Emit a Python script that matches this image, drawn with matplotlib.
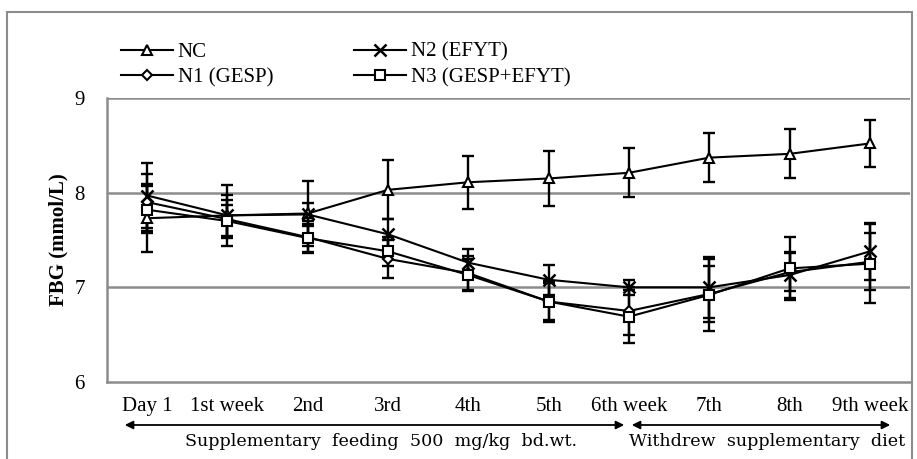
import numpy as np
import matplotlib
matplotlib.use('Agg')
from matplotlib import pyplot as plt
from matplotlib.patches import Rectangle, FancyArrowPatch

# x categories
weeks = ['Day 1', '1st week', '2nd', '3rd', '4th', '5th', '6th week', '7th', '8th', '9th week']

# mean FBG (mmol/L)
nc = [7.73, 7.76, 7.78, 8.03, 8.11, 8.15, 8.21, 8.37, 8.41, 8.52]
n1 = [7.90, 7.72, 7.53, 7.30, 7.15, 6.85, 6.75, 6.93, 7.16, 7.27]
n2 = [7.97, 7.76, 7.77, 7.56, 7.26, 7.08, 7.00, 7.00, 7.13, 7.38]
n3 = [7.82, 7.70, 7.52, 7.38, 7.13, 6.85, 6.69, 6.92, 7.20, 7.25]

# error bars
nc_err = [0.36, 0.32, 0.34, 0.31, 0.28, 0.29, 0.26, 0.26, 0.26, 0.25]
n1_err = [0.30, 0.20, 0.17, 0.20, 0.18, 0.22, 0.25, 0.30, 0.20, 0.30]
n2_err = [0.34, 0.22, 0.12, 0.16, 0.14, 0.16, 0.08, 0.32, 0.24, 0.30]
n3_err = [0.25, 0.17, 0.15, 0.15, 0.17, 0.20, 0.28, 0.38, 0.33, 0.42]

labels = ['NC', 'N1 (GESP)', 'N2 (EFYT)', 'N3 (GESP+EFYT)']
markers = ['^', 'D', 'x', 's']

plt.rcParams['font.family'] = ['Liberation Serif', 'DejaVu Serif']

fig = plt.figure(figsize=(9.17, 4.59), dpi=100)
ax = fig.add_axes([107/917, 1 - 382/459, 803/917, 284/459])

x = np.arange(len(weeks))
series = [(nc, nc_err), (n1, n1_err), (n2, n2_err), (n3, n3_err)]
for (vals, err), lab, mk in zip(series, labels, markers):
    ax.errorbar(x, vals, yerr=err, fmt='none', ecolor='black', elinewidth=1.7,
                capsize=4.5, capthick=1.7, zorder=3)
    ms = 5.5 if mk == 'D' else 6.5
    if mk == 'x':
        ax.plot(x, vals, color='black', lw=1.5, marker=mk, markersize=8,
                markeredgewidth=1.8, label=lab, zorder=4)
    else:
        ax.plot(x, vals, color='black', lw=1.5, marker=mk, markersize=ms,
                markerfacecolor='white', markeredgecolor='black',
                markeredgewidth=1.5, label=lab, zorder=4)

ax.set_xlim(-0.5, 9.5)
ax.set_ylim(6, 9)
ax.set_yticks([6, 7, 8, 9])
ax.set_xticks(x)
ax.set_xticklabels(weeks)
ax.tick_params(axis='both', length=0, labelsize=15)
ax.tick_params(axis='x', pad=11)
ax.tick_params(axis='y', pad=16)
for y in [7, 8, 9]:
    ax.axhline(y, color='#8c8c8c', lw=1.8, zorder=1)
for s in ['top', 'right']:
    ax.spines[s].set_visible(False)
for s in ['left', 'bottom']:
    ax.spines[s].set_color('#8c8c8c')
    ax.spines[s].set_linewidth(1.8)
ax.set_ylabel('FBG (mmol/L)', fontsize=15, fontweight='bold', labelpad=4)

fig.legend(loc='upper left', bbox_to_anchor=(113/917, 1 - 34/459), ncol=2,
           frameon=False, fontsize=15, handlelength=2.5, handletextpad=0.2,
           columnspacing=3.9, labelspacing=0.3, borderaxespad=0)

# period arrows below axis
arrow_y = 1 - 425/459
fig.add_artist(FancyArrowPatch(
    (122/917, arrow_y), (627/917, arrow_y), transform=fig.transFigure,
    arrowstyle='<|-|>', mutation_scale=12, color='black', lw=1.3))
fig.add_artist(FancyArrowPatch(
    (629/917, arrow_y), (893/917, arrow_y), transform=fig.transFigure,
    arrowstyle='<|-|>', mutation_scale=12, color='black', lw=1.3))
fig.text(381/917, 1 - 442/459, 'Supplementary  feeding  500  mg/kg  bd.wt.',
         ha='center', va='center', fontsize=12.6, family='DejaVu Serif')
fig.text(767/917, 1 - 442/459, 'Withdrew  supplementary  diet',
         ha='center', va='center', fontsize=12.6, family='DejaVu Serif')

# outer frame
fig.add_artist(Rectangle((7/917, -0.01), 905/917, 1 - 12/459 + 0.01,
                         transform=fig.transFigure, fill=False,
                         edgecolor='#8c8c8c', lw=1.5))

fig.savefig('out.png', dpi=100)
